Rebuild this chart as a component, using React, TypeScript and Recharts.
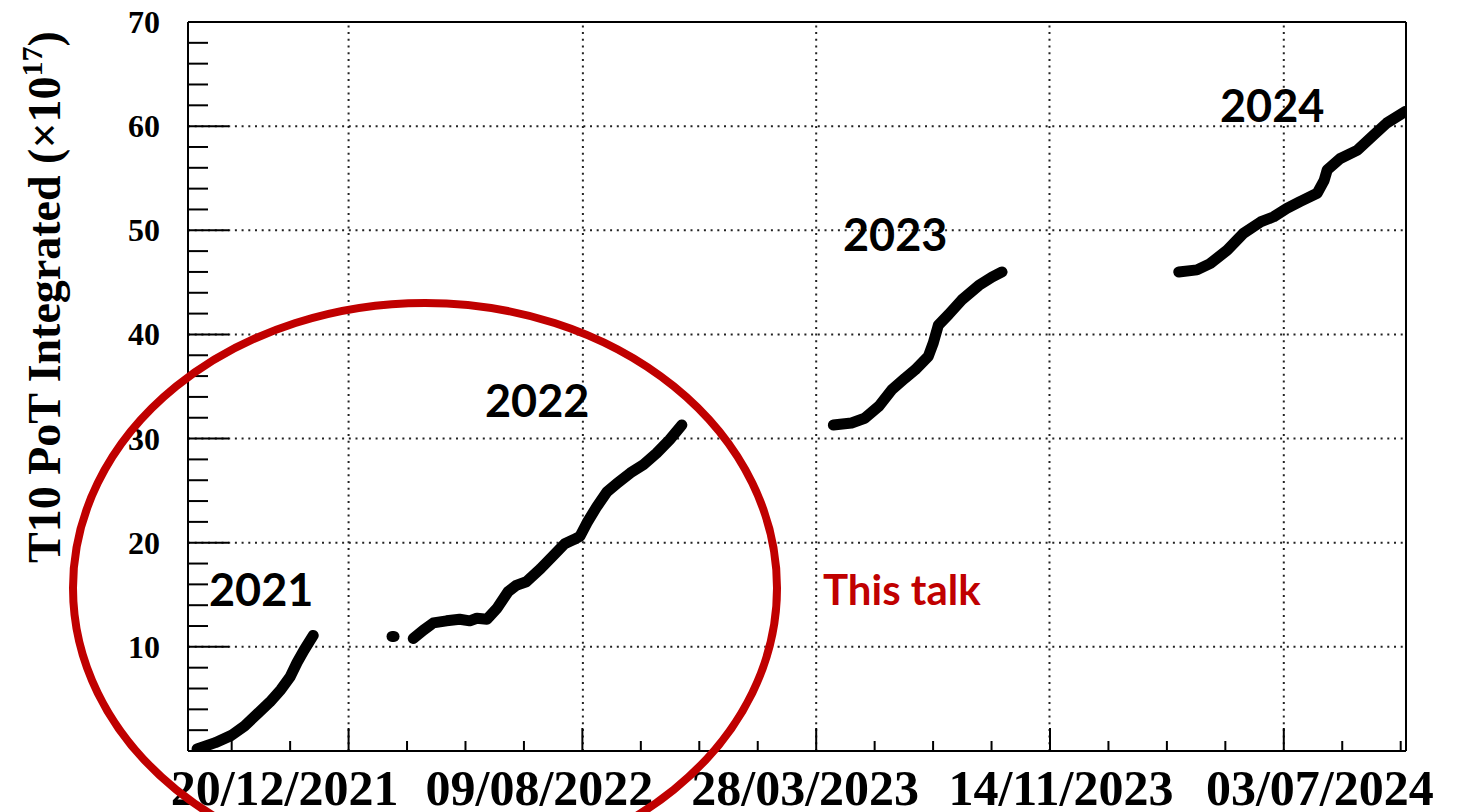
import { ComposedChart, Line, XAxis, YAxis, ReferenceLine } from 'recharts'

// x values are days counted from 20/12/2021
const xLabelDates = ['2021-12-20', '2022-08-09', '2023-03-28', '2023-11-14', '2024-07-03']
const yMajor = [0, 10, 20, 30, 40, 50, 60, 70]

const run2021 = [
  { day: -150, v: 0.2 }, { day: -132, v: 0.8 }, { day: -116, v: 1.5 }, { day: -103, v: 2.4 },
  { day: -90, v: 3.6 }, { day: -78, v: 4.7 }, { day: -67, v: 5.9 }, { day: -58, v: 7.1 },
  { day: -51, v: 8.5 }, { day: -44, v: 9.7 }, { day: -35, v: 11.1 },
]

const run2022Spill = [{ day: 43, v: 11.0 }, { day: 45, v: 11.0 }]

const run2022 = [
  { day: 64, v: 10.8 }, { day: 74, v: 11.6 }, { day: 84, v: 12.3 }, { day: 97, v: 12.5 },
  { day: 110, v: 12.65 }, { day: 120, v: 12.5 }, { day: 127, v: 12.75 }, { day: 137, v: 12.65 },
  { day: 147, v: 13.7 }, { day: 158, v: 15.3 }, { day: 166, v: 15.9 }, { day: 176, v: 16.25 },
  { day: 190, v: 17.5 }, { day: 203, v: 18.8 }, { day: 214, v: 19.9 }, { day: 223, v: 20.3 },
  { day: 229, v: 20.6 }, { day: 236, v: 21.9 }, { day: 246, v: 23.5 }, { day: 256, v: 24.9 },
  { day: 266, v: 25.7 }, { day: 279, v: 26.7 }, { day: 292, v: 27.5 }, { day: 305, v: 28.6 },
  { day: 318, v: 29.9 }, { day: 330, v: 31.3 },
]

const run2023 = [
  { day: 480, v: 31.3 }, { day: 498, v: 31.5 }, { day: 511, v: 31.95 }, { day: 525, v: 33.1 },
  { day: 538, v: 34.7 }, { day: 551, v: 35.8 }, { day: 561, v: 36.6 }, { day: 574, v: 37.9 },
  { day: 579, v: 39.2 }, { day: 584, v: 40.9 }, { day: 594, v: 41.9 }, { day: 607, v: 43.3 },
  { day: 624, v: 44.7 }, { day: 637, v: 45.5 }, { day: 647, v: 46.0 },
]

const run2024 = [
  { day: 822, v: 46.0 }, { day: 840, v: 46.2 }, { day: 853, v: 46.8 }, { day: 870, v: 48.1 },
  { day: 886, v: 49.7 }, { day: 903, v: 50.8 }, { day: 916, v: 51.3 }, { day: 929, v: 52.1 },
  { day: 942, v: 52.75 }, { day: 959, v: 53.55 }, { day: 966, v: 54.8 }, { day: 969, v: 55.8 },
  { day: 982, v: 56.9 }, { day: 999, v: 57.7 }, { day: 1015, v: 59.15 }, { day: 1028, v: 60.3 },
  { day: 1046, v: 61.4 },
]

const runs = [run2021, run2022Spill, run2022, run2023, run2024]

const DAY0 = Date.parse(xLabelDates[0])
const xMajor = xLabelDates.map((d) => Math.round((Date.parse(d) - DAY0) / 86400000))
const xLabels = xLabelDates.map((d) => {
  const [y, m, dd] = d.split('-')
  return `${dd}/${m}/${y}`
})
const X_DOMAIN: [number, number] = [-159, 1047]

// 4 sub-divisions per major, like ROOT
const xStep = (xMajor[xMajor.length - 1] - xMajor[0]) / (xMajor.length - 1) / 4
const xTicks: number[] = []
for (let k = -2; k <= 18; k++) xTicks.push(xMajor[0] + k * xStep)
const yTicks: number[] = []
for (let v = 0; v <= 70; v += 2) yTicks.push(v)

// the date labels sit a bit off their ticks in the original
const LABEL_SHIFT = [-64, -43, -11, 11, 36]

const SERIF = '"Liberation Serif", "Times New Roman", serif'
const SANS = 'Lato, "Open Sans", sans-serif'
const RED = '#C00000'

function XTick(props: any) {
  const { x, y, payload } = props
  const k = Math.round((payload.value - xMajor[0]) / xStep)
  const major = k % 4 === 0 && k >= 0 && k / 4 < xLabels.length
  return (
    <g>
      <line x1={x} x2={x} y1={y} y2={y - (major ? 23 : 10)} stroke="#000" strokeWidth={2} />
      {major && (
        <text
          x={x + LABEL_SHIFT[k / 4]}
          y={y + 54}
          textAnchor="middle"
          fontFamily={SERIF}
          fontWeight="bold"
          fontSize={50}
          fill="#000"
        >
          {xLabels[k / 4]}
        </text>
      )}
    </g>
  )
}

function YTick(props: any) {
  const { x, y, payload } = props
  const v = payload.value
  const major = v % 10 === 0
  return (
    <g>
      <line x1={x} x2={x + (major ? 41 : 20)} y1={y} y2={y} stroke="#000" strokeWidth={2} />
      {major && v > 0 && (
        <text
          x={x - 28}
          y={y}
          dy={11}
          textAnchor="end"
          fontFamily={SERIF}
          fontWeight="bold"
          fontSize={32}
          fill="#000"
        >
          {v}
        </text>
      )}
    </g>
  )
}

export default function App() {
  return (
    <div style={{ position: 'absolute', left: 0, top: 0, width: 1466, height: 812, background: '#fff' }}>
      <ComposedChart width={1466} height={812} margin={{ top: 22, right: 60, bottom: 0, left: 0 }}>
        <XAxis
          type="number"
          dataKey="day"
          domain={X_DOMAIN}
          allowDataOverflow
          ticks={xTicks}
          interval={0}
          tickSize={0}
          tickMargin={0}
          tickLine={false}
          tick={(p: any) => <XTick {...p} />}
          axisLine={{ stroke: '#000', strokeWidth: 2 }}
          height={61}
        />
        <YAxis
          type="number"
          dataKey="v"
          domain={[0, 70]}
          allowDataOverflow
          ticks={yTicks}
          interval={0}
          tickSize={0}
          tickMargin={0}
          tickLine={false}
          tick={(p: any) => <YTick {...p} />}
          axisLine={{ stroke: '#000', strokeWidth: 2 }}
          width={188}
        />
        {yMajor.slice(1, -1).map((v) => (
          <ReferenceLine key={'gy' + v} y={v} stroke="#222" strokeWidth={2} strokeDasharray="2 4.7" />
        ))}
        {xMajor.map((d) => (
          <ReferenceLine key={'gx' + d} x={d} stroke="#222" strokeWidth={2} strokeDasharray="2 4.7" />
        ))}
        <ReferenceLine y={70} stroke="#000" strokeWidth={2} />
        <ReferenceLine x={X_DOMAIN[1]} stroke="#000" strokeWidth={2} />
        {runs.map((r, i) => (
          <Line
            key={i}
            data={r}
            dataKey="v"
            type="linear"
            stroke="#000"
            strokeWidth={11}
            strokeLinecap="round"
            strokeLinejoin="round"
            dot={false}
            activeDot={false}
            isAnimationActive={false}
          />
        ))}
      </ComposedChart>
      <svg width={1466} height={812} style={{ position: 'absolute', left: 0, top: 0, pointerEvents: 'none' }}>
        <text
          transform="translate(60,563) rotate(-90)"
          fontFamily={SERIF}
          fontWeight="bold"
          fontSize={46}
          fill="#000"
        >
          T10 PoT Integrated (×10
          <tspan fontSize={30} dy={-18}>17</tspan>
          <tspan dy={18}>)</tspan>
        </text>
        <g fontFamily={SANS} fontWeight="bold" fontSize={45} fill="#000">
          <text x={209} y={606}>2021</text>
          <text x={485} y={417}>2022</text>
          <text x={843} y={251}>2023</text>
          <text x={1220} y={122}>2024</text>
        </g>
        <text x={823} y={605} fontFamily={SANS} fontWeight="bold" fontSize={42} fill={RED}>
          This talk
        </text>
        <ellipse cx={425} cy={588} rx={352} ry={285} fill="none" stroke={RED} strokeWidth={8} />
      </svg>
    </div>
  )
}
